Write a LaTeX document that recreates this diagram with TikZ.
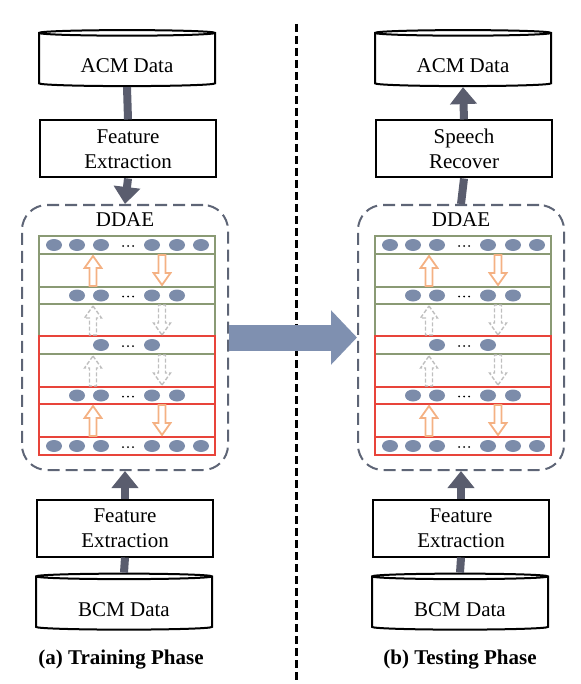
\documentclass[tikz,border=0pt]{standalone}
\usepackage{fontspec}
\setmainfont{Liberation Serif}
\usetikzlibrary{shapes.geometric,arrows.meta}
\definecolor{barcol}{HTML}{5A5D6E}
\definecolor{unitcol}{HTML}{7C8CAA}
\definecolor{bigcol}{HTML}{7F90B0}
\definecolor{encol}{HTML}{8A9A74}
\definecolor{decol}{HTML}{E8443A}
\definecolor{trainorange}{HTML}{F4B183}
\definecolor{frozengray}{HTML}{BFBFBF}
\definecolor{framecol}{HTML}{5E6576}
% hollow block arrows: [style]{x}{top}{bottom}
\newcommand\hollowup[4][]{\draw[#1] (#2,#3) -- (#2+8.5,#3+12) -- (#2+3.5,#3+12) -- (#2+3.5,#4) -- (#2-3.5,#4) -- (#2-3.5,#3+12) -- (#2-8.5,#3+12) -- cycle;}
\newcommand\hollowdown[4][]{\draw[#1] (#2,#4) -- (#2+8.5,#4-12) -- (#2+3.5,#4-12) -- (#2+3.5,#3) -- (#2-3.5,#3) -- (#2-3.5,#4-12) -- (#2-8.5,#4-12) -- cycle;}
\begin{document}
\begin{tikzpicture}[x=0.5pt,y=-0.5pt,
  font=\fontsize{10.5}{12.5}\selectfont,
  box/.style={draw,line width=1pt,minimum width=88pt,minimum height=28.5pt,align=center,inner sep=0pt},
  drum/.style={cylinder,shape border rotate=90,draw,line width=1pt,fill=white,minimum width=88pt,minimum height=28pt,aspect=0.06,inner sep=0pt,text height=13pt,text depth=0pt},
  ddae/.style={draw=framecol,line width=1pt,rounded corners=12.5pt,dash pattern=on 6pt off 3pt,minimum width=103pt,minimum height=132.5pt},
  bar/.style={draw=barcol,line width=4pt},
  barhead/.style={bar,-{Triangle[width=13pt,length=8.5pt]}},
  enline/.style={draw=encol,line width=0.7pt},
  deline/.style={draw=decol,line width=0.7pt},
  unit/.style={fill=unitcol},
  trained/.style={draw=trainorange,line width=0.9pt},
  frozen/.style={draw=frozengray,line width=0.7pt,dash pattern=on 2pt off 1pt},
  caption/.style={font=\fontsize{10.5}{12.5}\selectfont\bfseries}]
\useasboundingbox (0,0) rectangle (580,684);

% phase separator
\draw[line width=1.5pt,dash pattern=on 4pt off 2pt] (296,24) -- (296,684);

% (a) training
\node[drum] (acmA) at (127,60) {ACM Data};
\node[box] (feA) at (128,149) {Feature\\Extraction};
\node[ddae] (ddaeA) at (125,337.5) {};
\node (lblA) at (125,220) {DDAE};
\node[box] (feC) at (125,528) {Feature\\Extraction};
\node[drum] (bcmA) at (124,603.5) {BCM Data};
\node[caption] (capA) at (121,660) {(a) Training Phase};
\draw[bar] (acmA.south) -- (feA.north);
\draw[barhead] (feA.south) -- (ddaeA.north);
\draw[bar] (bcmA.north) -- (feC.south);
\draw[barhead] (feC.north) -- (ddaeA.south);

% (b) testing
\node[drum] (acmB) at (463,60) {ACM Data};
\node[box] (srB) at (464,149) {Speech\\Recover};
\node[ddae] (ddaeB) at (461,337.5) {};
\node (lblB) at (461,220) {DDAE};
\node[box] (feD) at (461,528) {Feature\\Extraction};
\node[drum] (bcmB) at (460,603.5) {BCM Data};
\node[caption] (capB) at (460,660) {(b) Testing Phase};
\draw[barhead] (srB.north) -- (acmB.south);
\draw[bar] (ddaeB.north) -- (srB.south);
\draw[bar] (bcmB.north) -- (feD.south);
\draw[barhead] (feD.north) -- (ddaeB.south);

% the trained model is carried over
\draw[draw=bigcol,line width=13pt,-{Triangle[width=26.5pt,length=13pt]}] (ddaeA.east) -- (ddaeB.west);

% layers of both networks
\foreach \dx in {0,336}{
\begin{scope}[shift={(\dx,0)}]
  \draw[enline] (39,236) rectangle (215,354) (39,254) -- (215,254) (39,287) -- (215,287) (39,304) -- (215,304);
  \draw[deline] (39,336) rectangle (215,455) (39,387) -- (215,387) (39,404) -- (215,404) (39,437) -- (215,437);
  \foreach \y in {245,446}
    \foreach \x in {54,77,101,152,177,201} \fill[unit] (\x,\y) ellipse [x radius=8,y radius=6];
  \foreach \y in {295.5,395.5}
    \foreach \x in {77,101,152,177} \fill[unit] (\x,\y) ellipse [x radius=8,y radius=6];
  \foreach \x in {101,152} \fill[unit] (\x,345) ellipse [x radius=8,y radius=6];
  \foreach \y in {245,295.5,345,395.5,446}
    \foreach \k in {-5,0,5} \fill (128+\k,\y+1) circle [radius=1];
  \hollowup[trained]{93}{256}{286}
  \hollowdown[trained]{162}{255}{285}
  \hollowup[frozen]{93}{306}{335}
  \hollowdown[frozen]{162}{305}{335}
  \hollowup[frozen]{93}{356}{386}
  \hollowdown[frozen]{162}{355}{385}
  \hollowup[trained]{93}{406}{436}
  \hollowdown[trained]{162}{405}{435}
\end{scope}}
\end{tikzpicture}
\end{document}
